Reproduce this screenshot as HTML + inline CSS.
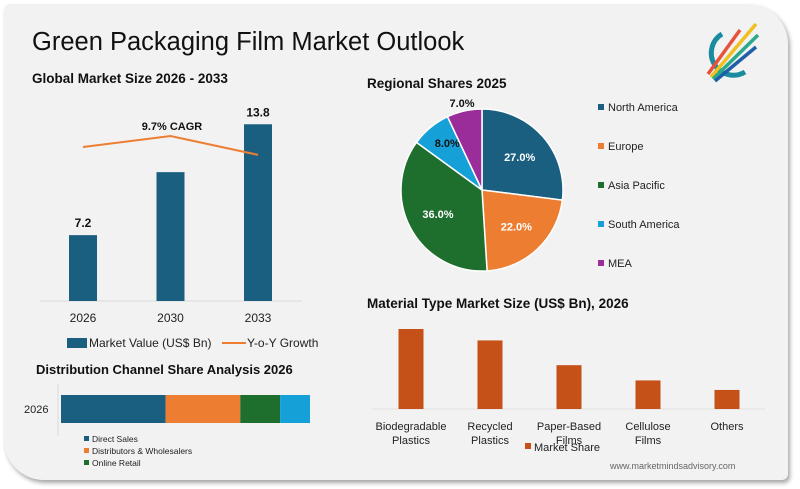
<!DOCTYPE html>
<html><head><meta charset="utf-8"><style>
body{margin:0;width:800px;height:489px;background:#fff;overflow:hidden;font-family:"Liberation Sans",sans-serif}
#card{position:absolute;left:4px;top:4px;width:784px;height:476px;background:#f2f2f2;border-radius:6px 40px 6px 40px;box-shadow:2px 3px 4px rgba(0,0,0,.35)}
svg{position:absolute;left:0;top:0}
</style></head><body>
<div id="card"></div>
<svg id="s" width="800" height="489" font-family="Liberation Sans, sans-serif">
<text x="32" y="50" font-size="25.5" fill="#111">Green Packaging Film Market Outlook</text>
<g>
<path d="M722 34 A20 20 0 1 0 745 72" fill="none" stroke="#1b8ca0" stroke-width="5"/>
<line x1="708" y1="74" x2="740" y2="30" stroke="#e8523a" stroke-width="3.5"/>
<line x1="711" y1="77" x2="756" y2="24" stroke="#f0c020" stroke-width="3.5"/>
<line x1="713" y1="79" x2="758" y2="35" stroke="#2aaa8a" stroke-width="3.5"/>
<line x1="715" y1="81" x2="756" y2="47" stroke="#1e5fa8" stroke-width="3.5"/>
</g>
<text x="32" y="83" font-size="13.5" font-weight="bold" fill="#111">Global Market Size 2026 - 2033</text>
<text x="367" y="88" font-size="13.5" font-weight="bold" fill="#111">Regional Shares 2025</text>
<text x="367" y="308" font-size="13.5" font-weight="bold" fill="#111">Material Type Market Size (US$ Bn), 2026</text>
<text x="36" y="374" font-size="13" font-weight="bold" fill="#111">Distribution Channel Share Analysis 2026</text>
<text x="610" y="469" font-size="9" fill="#666">www.marketmindsadvisory.com</text>
<g id="g1"></g><g id="g2"></g><g id="g3"></g><g id="g4"></g>
</svg>
<script>
const years=["2026","2030","2033"];
const marketValues=[7.2,10.95,13.8];
const valueLabels=["7.2","","13.8"];
const growthValues=[9.4,10.1,8.9];
const regions=["North America","Europe","Asia Pacific","South America","MEA"];
const regionShares=[27,22,36,8,7];
const regionColors=["#1a5f80","#ed7d31","#1e6e2e","#16a0d8","#9b2d9b"];
const channels=["Direct Sales","Distributors & Wholesalers","Online Retail","Others"];
const channelShares=[42,30,16,12];
const channelColors=["#1a5f80","#ed7d31","#1e6e2e","#16a0d8"];
const materials=[["Biodegradable","Plastics"],["Recycled","Plastics"],["Paper-Based","Films"],["Cellulose","Films"],["Others"]];
const materialValues=[4.2,3.6,2.3,1.5,1.0];
const NS="http://www.w3.org/2000/svg";
function mk(p,t,a,txt){const e=document.createElementNS(NS,t);for(const k in a)e.setAttribute(k,a[k]);if(txt!==undefined)e.textContent=txt;p.appendChild(e);return e;}
// chart 1
const g1=document.getElementById('g1');
const base1=301,y1=v=>base1-(v-3.28)*16.8,x1=i=>83+i*87.5;
const gy=v=>147-(v-9.4)*15.7;
mk(g1,'line',{x1:40,y1:base1,x2:302,y2:base1,stroke:'#d9d9d9'});
years.forEach((y,i)=>{
 const r=mk(g1,'rect',{x:x1(i)-14,y:y1(marketValues[i]),width:28,height:base1-y1(marketValues[i]),fill:'#1a5f80'});
 
 
 if(valueLabels[i]){const t=mk(g1,'text',{x:x1(i),y:y1(marketValues[i])-8,'text-anchor':'middle','font-size':12,'font-weight':'bold',fill:'#111'},valueLabels[i]);
 }
 const t=mk(g1,'text',{x:x1(i),y:322,'text-anchor':'middle','font-size':12,fill:'#222'},y);
 
});
const pl=mk(g1,'polyline',{points:growthValues.map((v,i)=>x1(i)+','+gy(v)).join(' '),fill:'none',stroke:'#ed7d31','stroke-width':2});

const cg=mk(g1,'text',{x:172,y:130,'text-anchor':'middle','font-size':11,'font-weight':'bold',fill:'#111'},'9.7% CAGR');

let l=mk(g1,'rect',{x:67,y:338,width:20,height:10,fill:'#1a5f80'});
mk(g1,'text',{x:89,y:347,'font-size':12,fill:'#222'},'Market Value (US$ Bn)');
l=mk(g1,'line',{x1:222,y1:343,x2:246,y2:343,stroke:'#ed7d31','stroke-width':2});
mk(g1,'text',{x:247,y:347,'font-size':12,fill:'#222'},'Y-o-Y Growth');
// pie
const g2=document.getElementById('g2');
const cx=482,cy=190,R=81;let a0=-Math.PI/2;const tot=regionShares.reduce((a,b)=>a+b,0);
regionShares.forEach((v,i)=>{
 const a1=a0+v/tot*2*Math.PI;const lg=(a1-a0)>Math.PI?1:0;
 const p=mk(g2,'path',{d:`M${cx},${cy} L${cx+R*Math.cos(a0)},${cy+R*Math.sin(a0)} A${R},${R} 0 ${lg} 1 ${cx+R*Math.cos(a1)},${cy+R*Math.sin(a1)} Z`,fill:regionColors[i],stroke:'#fff','stroke-width':1.5});
 
 const am=(a0+a1)/2;let rr=R*0.62;let col=i<3?'#fff':'#111';let lx=cx+rr*Math.cos(am),ly=cy+rr*Math.sin(am);
 if(i==4){lx=cx-20;ly=cy-R-6;}
 if(i==3){rr=R*0.75;lx=cx+rr*Math.cos(am)+4;ly=cy+rr*Math.sin(am);}
 const t=mk(g2,'text',{x:lx,y:ly+4,'text-anchor':'middle','font-size':11,'font-weight':'bold',fill:col},v.toFixed(1)+'%');
 
 a0=a1;
 const ly2=108+i*39;
 const s=mk(g2,'rect',{x:598,y:ly2-4,width:6,height:6,fill:regionColors[i]});
 
 mk(g2,'text',{x:608,y:ly2+3,'font-size':11,fill:'#222'},regions[i]);
});
// distribution
const g3=document.getElementById('g3');
mk(g3,'line',{x1:58,y1:384,x2:58,y2:436,stroke:'#d9d9d9'});
mk(g3,'text',{x:24,y:413,'font-size':11,fill:'#222'},'2026');
const dx=v=>v*2.49;let acc=61;
channelShares.forEach((v,i)=>{
 const r=mk(g3,'rect',{x:acc,y:395,width:dx(v),height:28,fill:channelColors[i]});
 acc+=dx(v);
 if(i<3){const s=mk(g3,'rect',{x:84,y:436+i*12,width:5,height:5,fill:channelColors[i]});
 
 mk(g3,'text',{x:92,y:442+i*12,'font-size':8.5,fill:'#222'},channels[i]);}
});
// material
const g4=document.getElementById('g4');
const b4=409,y4=v=>b4-v*19.05,x4=i=>411+i*79;
mk(g4,'line',{x1:372,y1:b4,x2:765,y2:b4,stroke:'#e0e0e0'});
materialValues.forEach((v,i)=>{
 const r=mk(g4,'rect',{x:x4(i)-12.5,y:y4(v),width:25,height:b4-y4(v),fill:'#c55018'});
 
 materials[i].forEach((ln,j)=>{const t=mk(g4,'text',{x:x4(i),y:430+j*14,'text-anchor':'middle','font-size':11,fill:'#222'},ln);
 });
});
l=mk(g4,'rect',{x:525,y:443,width:6,height:6,fill:'#c55018'});
mk(g4,'text',{x:534,y:451,'font-size':11,fill:'#222'},'Market Share');
</script>
</body></html>
